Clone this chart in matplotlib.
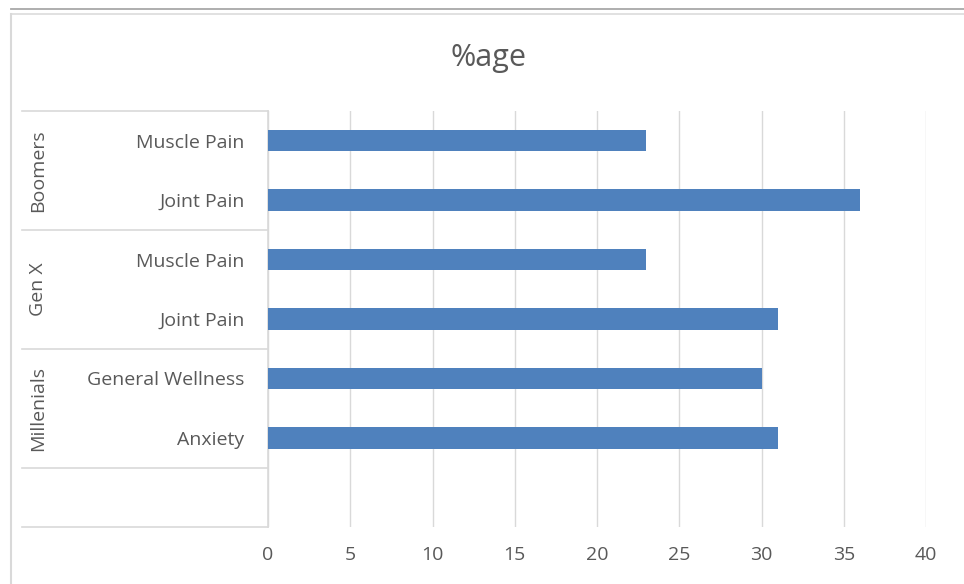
import matplotlib

matplotlib.use("Agg")
import matplotlib.pyplot as plt
import matplotlib.transforms as mtransforms
from matplotlib.lines import Line2D

# Kategoriler (yukaridan asagi), grup adlari ve degerler
groups = ["Boomers", "Gen X", "Millenials"]
group_items = [
    ["Muscle Pain", "Joint Pain"],
    ["Muscle Pain", "Joint Pain"],
    ["General Wellness", "Anxiety"],
]
values = [
    [23, 36],
    [23, 31],
    [30, 31],
]
x_ticks = [0, 5, 10, 15, 20, 25, 30, 35, 40]
title = "%age"

BAR_COLOR = "#4f81bd"
TEXT_COLOR = "#595959"
LINE_COLOR = "#d9d9d9"
FONT = "Open Sans"
FS = 14

W, H = 964, 584
fig = plt.figure(figsize=(W / 100, H / 100), dpi=100)


def fx(px):
    return px / W


def fy(py):
    return 1 - py / H


left_px, right_px, top_px, bottom_px = 268, 926, 111, 527
ax = fig.add_axes([fx(left_px), fy(bottom_px), fx(right_px) - fx(left_px),
                   fy(top_px) - fy(bottom_px)])

labels, vals = [], []
for items, v in zip(group_items, values):
    labels += items
    vals += v
n_slots = len(labels) + 1  # Excel'deki bos son satir
ypos = list(range(len(labels)))

ax.barh(ypos, vals, height=0.36, color=BAR_COLOR, zorder=3)
ax.set_ylim(n_slots - 0.5, -0.5)
ax.set_xlim(0, 40)
ax.set_xticks(x_ticks)
ax.set_xticklabels([str(t) for t in x_ticks], fontsize=FS, color=TEXT_COLOR, family=FONT)
ax.set_yticks(ypos)
ax.set_yticklabels(labels, fontsize=FS, color=TEXT_COLOR, family=FONT)
ax.tick_params(axis="x", length=0, pad=14)
ax.tick_params(axis="y", length=0, pad=17)
ax.grid(axis="x", color=LINE_COLOR, linewidth=1, zorder=0)
for s in ["top", "right", "bottom"]:
    ax.spines[s].set_visible(False)
ax.spines["left"].set_color(LINE_COLOR)
ax.spines["left"].set_linewidth(1.2)

# Cok seviyeli kategori ekseni: grup ayiraclari ve dikey grup adlari
trans = mtransforms.blended_transform_factory(fig.transFigure, ax.transData)
seps = [-0.5]
start = -0.5
for g, items in zip(groups, group_items):
    mid = start + len(items) / 2
    ax.text(fx(38), mid, g, transform=trans, rotation=90, ha="center", va="center",
            fontsize=FS, color=TEXT_COLOR, family=FONT)
    start += len(items)
    seps.append(start)
seps.append(n_slots - 0.5)
for s in seps:
    ax.add_line(Line2D([fx(22), fx(left_px)], [s, s], transform=trans,
                       color=LINE_COLOR, linewidth=1.2, clip_on=False))

fig.text(fx(488), fy(58), title, ha="center", va="center", fontsize=22,
         color=TEXT_COLOR, family=FONT)

# Grafik cercevesi
fig.add_artist(Line2D([fx(11), fx(964)], [fy(9), fy(9)], color="#a8a8a8", linewidth=1.3))
fig.add_artist(Line2D([fx(11), fx(964)], [fy(14), fy(14)], color="#dedede", linewidth=1.3))
fig.add_artist(Line2D([fx(11), fx(11)], [fy(14), 0], color=LINE_COLOR, linewidth=1.5))

fig.savefig("out.png", dpi=100)
